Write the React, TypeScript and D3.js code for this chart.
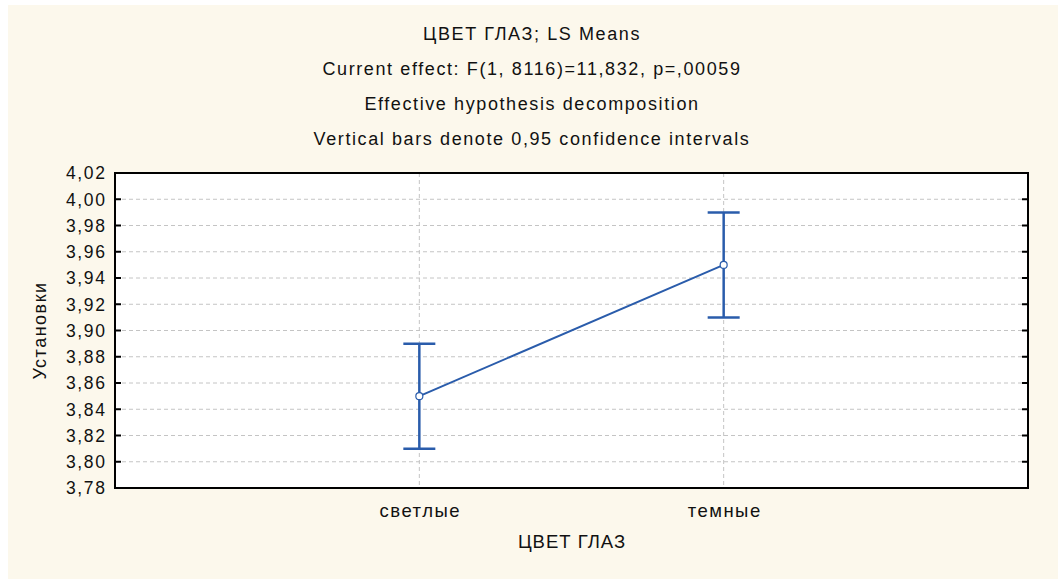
import React from "react";
import * as d3 from "d3";

const categories = ["светлые", "темные"];
const means = [3.85, 3.95];
const lower = [3.81, 3.91];
const upper = [3.89, 3.99];
const yTicks = [3.78, 3.8, 3.82, 3.84, 3.86, 3.88, 3.9, 3.92, 3.94, 3.96, 3.98, 4.0, 4.02];
const titleLines = [
  "ЦВЕТ ГЛАЗ; LS Means",
  "Current effect: F(1, 8116)=11,832, p=,00059",
  "Effective hypothesis decomposition",
  "Vertical bars denote 0,95 confidence intervals",
];
const xTitle = "ЦВЕТ ГЛАЗ";
const yTitle = "Установки";

export default function App() {
  const W = 1058, H = 579;
  const L = 115, R = 1028, T = 173, B = 488;
  const x = d3.scalePoint<string>().domain(categories).range([L, R]).padding(1);
  const y = d3.scaleLinear().domain([3.78, 4.02]).range([B, T]);
  const fmt = (v: number) => v.toFixed(2).replace(".", ",");
  const blue = "#2a5cab";
  const line = d3.line<number>().x((_, i) => x(categories[i])!).y((d) => y(d));
  const font = "'Liberation Sans', Arial, sans-serif";
  const cap = 16;
  return (
    <svg width={W} height={H} style={{ position: "absolute", left: 0, top: 0 }} fontFamily={font}>
      <rect x={0} y={0} width={W} height={H} fill="#ffffff" />
      <rect x={8} y={5} width={W - 8} height={H - 5} fill="#fcf8ec" />
      {titleLines.map((t, i) => (
        <text key={i} x={532} y={40 + i * 35} textAnchor="middle" fontSize={18} letterSpacing={1.6} fill="#111">{t}</text>
      ))}
      <rect x={L} y={T} width={R - L} height={B - T} fill="#ffffff" />
      {yTicks.slice(1, -1).map((v) => (
        <line key={v} x1={L} x2={R} y1={y(v)} y2={y(v)} stroke="#c4c4c4" strokeDasharray="4,3" />
      ))}
      {categories.map((c) => (
        <line key={c} x1={x(c)} x2={x(c)} y1={T} y2={B} stroke="#c4c4c4" strokeDasharray="4,3" />
      ))}
      {yTicks.map((v) => (
        <g key={v}>
          <line x1={L} x2={L + 6} y1={y(v)} y2={y(v)} stroke="#000" strokeWidth={2} />
          <line x1={R - 6} x2={R} y1={y(v)} y2={y(v)} stroke="#000" strokeWidth={2} />
          <text x={106.5} y={y(v) + 6.3} textAnchor="end" fontSize={17.5} letterSpacing={1.6} fill="#111">{fmt(v)}</text>
        </g>
      ))}
      <rect x={L} y={T} width={R - L} height={B - T} fill="none" stroke="#000" strokeWidth={2} />
      {categories.map((c) => (
        <text key={c} x={x(c)! + 1} y={517} textAnchor="middle" fontSize={18.5} letterSpacing={1.5} fill="#111">{c}</text>
      ))}
      <text x={572} y={548} textAnchor="middle" fontSize={18.5} letterSpacing={1} fill="#111">{xTitle}</text>
      <text transform={`translate(46,${(T + B) / 2}) rotate(-90)`} textAnchor="middle" fontSize={18} letterSpacing={1.5} fill="#111">{yTitle}</text>
      <path d={line(means) || ""} fill="none" stroke={blue} strokeWidth={2} />
      {categories.map((c, i) => (
        <g key={c} stroke={blue} strokeWidth={2.5}>
          <line x1={x(c)} x2={x(c)} y1={y(lower[i])} y2={y(upper[i])} />
          <line x1={x(c)! - cap} x2={x(c)! + cap} y1={y(lower[i])} y2={y(lower[i])} />
          <line x1={x(c)! - cap} x2={x(c)! + cap} y1={y(upper[i])} y2={y(upper[i])} />
        </g>
      ))}
      {categories.map((c, i) => (
        <circle key={c} cx={x(c)} cy={y(means[i])} r={3.5} fill="#fff" stroke={blue} strokeWidth={1.2} />
      ))}
    </svg>
  );
}
